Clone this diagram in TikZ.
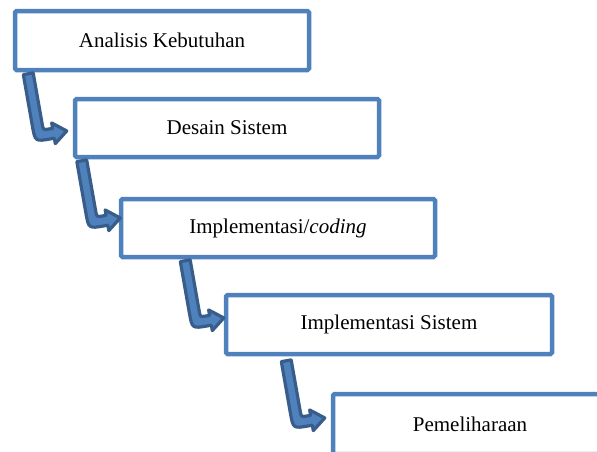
\documentclass[tikz,border=0pt]{standalone}
\usepackage{fontspec}
\setmainfont{Liberation Serif}
\usetikzlibrary{calc}

\definecolor{boxblue}{RGB}{79,129,189}
\definecolor{arrowdark}{RGB}{56,93,138}

\tikzset{
  stagebox/.style={draw=boxblue, line width=4.5pt, fill=white, rounded corners=1.5pt,
    inner sep=0pt, font=\fontsize{21}{25}\selectfont},
  % bent arrow: shaft goes down from the origin, then turns right to the tip
  bentarrow/.pic={
    \def\hw{5}\def\dd{63}\def\tipx{28}\def\hl{13.5}\def\hh{10.5}\def\ro{16}\def\ri{6}
    \filldraw[draw=arrowdark, fill=boxblue, line width=3.2pt, line join=round]
      (-\hw,0) -- (-\hw,\dd+\hw-\ro) .. controls (-\hw,\dd+\hw) .. (-\hw+\ro,\dd+\hw)
      -- (\tipx-\hl,\dd+\hw) -- (\tipx-\hl,\dd+\hh) -- (\tipx,\dd) -- (\tipx-\hl,\dd-\hh)
      -- (\tipx-\hl,\dd-\hw) -- (\hw+\ri,\dd-\hw) .. controls (\hw,\dd-\hw) .. (\hw,\dd-\hw-\ri)
      -- (\hw,0) -- cycle;
  }
}

\begin{document}
\begin{tikzpicture}[x=1pt, y=-1pt]
  \useasboundingbox (0,0) rectangle (597,451);
  \clip (0,0) rectangle (597,451);

  \node[stagebox, minimum width=294pt, minimum height=59pt] (b1) at (162,40.5) {Analisis Kebutuhan};
  \node[stagebox, minimum width=304pt, minimum height=58pt] (b2) at (227,128) {Desain Sistem};
  \node[stagebox, minimum width=314pt, minimum height=58pt] (b3) at (278,228) {Implementasi/\textit{coding}};
  \node[stagebox, minimum width=326pt, minimum height=59pt] (b4) at (389,324.5) {Implementasi Sistem};
  \node[stagebox, minimum width=274pt, minimum height=60pt] (b5) at (470,424) {Pemeliharaan};

  % arrow starts, just under the lower edge of each box
  \coordinate (s1) at ($(b1.south west)+(15.5,1.5)$);
  \coordinate (s2) at ($(b2.south west)+(9,1.5)$);
  \coordinate (s3) at ($(b3.south west)+(66.5,1.5)$);
  \coordinate (s4) at ($(b4.south west)+(62.5,4.5)$);

  \pic[rotate=10] at (s1) {bentarrow};
  \pic[rotate=10] at (s2) {bentarrow};
  \pic[rotate=10] at (s3) {bentarrow};
  \pic[rotate=10] at (s4) {bentarrow};
\end{tikzpicture}
\end{document}
